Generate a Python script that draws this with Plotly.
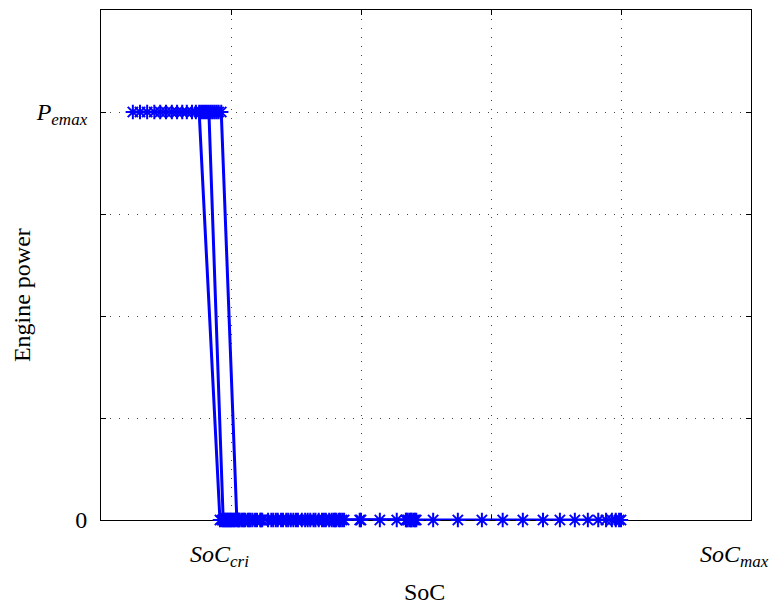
import plotly.graph_objects as go

# Engine-power vs SoC trajectory (three on/off cycles)
P_EMAX = 4.0  # y-level of P_emax (axis 0..5)

seg1_top = [0.049, 0.060, 0.071, 0.082, 0.091, 0.100, 0.109, 0.117, 0.125, 0.132, 0.140, 0.146, 0.151]
seg1_bottom = [0.183, 0.186, 0.189, 0.192, 0.195, 0.198, 0.201, 0.205, 0.211, 0.218, 0.226, 0.233,
               0.240, 0.248, 0.262, 0.269, 0.277, 0.285, 0.292, 0.300, 0.309, 0.318, 0.327, 0.335,
               0.343, 0.351, 0.358, 0.366, 0.374, 0.398, 0.429, 0.455, 0.469, 0.475, 0.478, 0.481,
               0.485, 0.511, 0.549, 0.586, 0.618, 0.649, 0.680, 0.706, 0.729, 0.749, 0.765, 0.777,
               0.786, 0.792, 0.797, 0.800]
seg2_top = [0.154, 0.157, 0.160, 0.163, 0.166]
seg2_bottom = [0.188, 0.191, 0.194, 0.197, 0.200, 0.203, 0.206, 0.212, 0.220, 0.228, 0.237,
               0.245, 0.257, 0.272, 0.288, 0.303, 0.322, 0.340, 0.355, 0.362, 0.400, 0.472,
               0.477, 0.483]
seg3_top = [0.169, 0.172, 0.175, 0.178, 0.181, 0.185]
seg3_bottom = [0.209, 0.213, 0.216, 0.222, 0.230, 0.246, 0.265, 0.280, 0.296, 0.314, 0.330,
               0.346, 0.360, 0.368, 0.371, 0.470]

segments = [(seg1_top, seg1_bottom), (seg2_top, seg2_bottom), (seg3_top, seg3_bottom)]

xs, ys = [], []
for top, bottom in segments:
    xs += top + bottom + [None]
    ys += [P_EMAX] * len(top) + [0.0] * len(bottom) + [None]

SUB = '<sub><span style="font-size:17px"><i>{}</i></span></sub>'
y_tickvals = [0, 1, 2, 3, 4]
y_ticktext = ["0", "", "", "", "<i>P</i>" + SUB.format("emax")]
x_gridvals = [0.2, 0.4, 0.6, 0.8]
x_labels = [(0.182, "<i>SoC</i>" + SUB.format("cri")), (0.975, "<i>SoC</i>" + SUB.format("max"))]

FONT = "Liberation Serif"

fig = go.Figure()
fig.add_trace(go.Scatter(
    x=xs, y=ys, mode="lines+markers",
    line=dict(color="#0000ff", width=3),
    marker=dict(symbol="asterisk-open", size=12, color="#0000ff",
                line=dict(color="#0000ff", width=2)),
    connectgaps=False, showlegend=False, cliponaxis=False,
))

axis_common = dict(
    showline=True, linecolor="black", linewidth=1, mirror="ticks",
    ticks="inside", ticklen=5, tickcolor="black",
    showgrid=True, gridcolor="#444444", gridwidth=1, griddash="1px,8px",
    zeroline=False, layer="below traces",
)

fig.update_xaxes(range=[0, 1], tickvals=x_gridvals, ticktext=[""] * len(x_gridvals),
                 **axis_common)
fig.update_yaxes(range=[0, 5], tickvals=y_tickvals, ticktext=y_ticktext,
                 ticklabelstandoff=8,
                 tickfont=dict(size=24, family=FONT, color="black"), **axis_common)

annotations = []
for xv, txt in x_labels:
    annotations.append(dict(x=xv, y=-0.07, xref="x", yref="paper", text=txt,
                            showarrow=False, xanchor="center", yanchor="middle",
                            font=dict(size=24, family=FONT, color="black")))
annotations.append(dict(x=0.497, y=-0.141, xref="paper", yref="paper", text="SoC",
                        showarrow=False, xanchor="center", yanchor="middle",
                        font=dict(size=24, family=FONT, color="black")))
annotations.append(dict(x=-0.1215, y=0.441, xref="paper", yref="paper", text="Engine power",
                        showarrow=False, xanchor="center", yanchor="middle", textangle=-90,
                        font=dict(size=24, family=FONT, color="black")))

fig.update_layout(
    width=784, height=606,
    margin=dict(l=101, r=33, t=10, b=86),
    paper_bgcolor="white", plot_bgcolor="white",
    annotations=annotations,
    font=dict(family=FONT, color="black"),
)

fig.write_html("out.html")
